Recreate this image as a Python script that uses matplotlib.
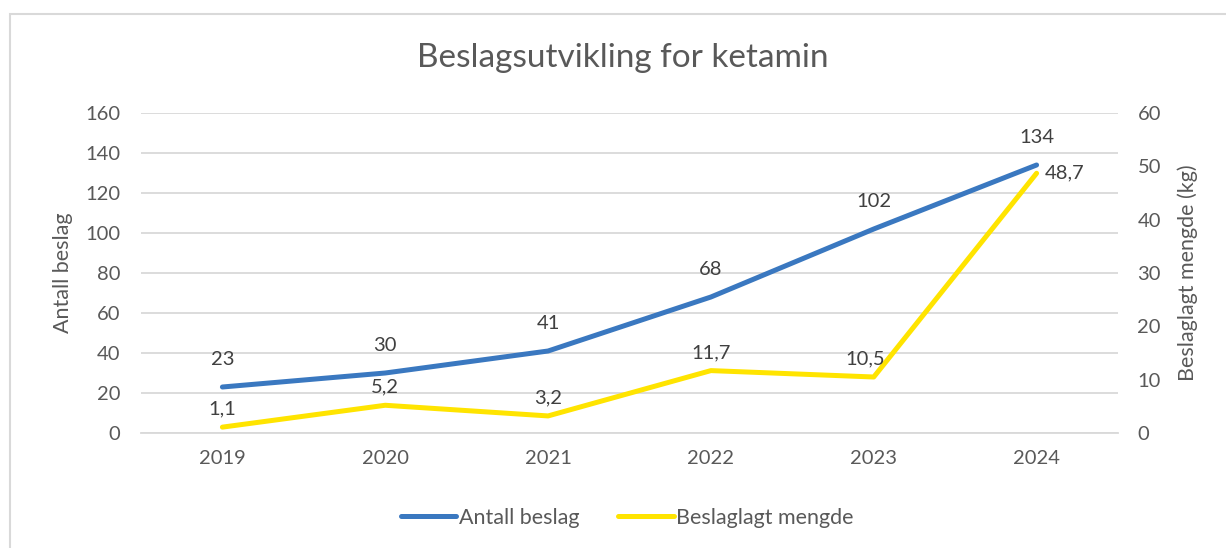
import matplotlib.pyplot as plt
from matplotlib.patches import Rectangle

years = ["2019", "2020", "2021", "2022", "2023", "2024"]
antall = [23, 30, 41, 68, 102, 134]
mengde = [1.1, 5.2, 3.2, 11.7, 10.5, 48.7]

blue = "#3a78c0"
yellow = "#ffe400"
txt = "#595959"
lbl = "#404040"

plt.rcParams["font.family"] = ["Lato", "DejaVu Sans"]

fig = plt.figure(figsize=(12.26, 5.48), dpi=100)
fig.patches.append(Rectangle((10 / 1226, -0.01), 1.02, (548 - 14) / 548 + 0.01,
                             transform=fig.transFigure, fill=False,
                             edgecolor="#d9d9d9", linewidth=1.5))

ax = fig.add_axes([141 / 1226, (548 - 433) / 548, (1118 - 141) / 1226, 320 / 548])
ax2 = ax.twinx()

x = list(range(len(years)))
ax.plot(x, antall, color=blue, lw=3.6, solid_capstyle="round", zorder=3)
ax2.plot(x, mengde, color=yellow, lw=3.6, solid_capstyle="round", zorder=3)

ax.set_xlim(-0.5, len(years) - 0.5)
ax.set_ylim(0, 160)
ax.set_yticks(range(0, 161, 20))
ax2.set_ylim(0, 60)
ax2.set_yticks(range(0, 61, 10))
ax.set_xticks(x)
ax.set_xticklabels(years)
ax.grid(axis="y", color="#d9d9d9", lw=1.3)
ax.set_axisbelow(True)

for a in (ax, ax2):
    for s in a.spines.values():
        s.set_visible(False)
    a.tick_params(length=0, labelsize=14.5, labelcolor=txt)
ax.spines["bottom"].set_visible(True)
ax.spines["bottom"].set_color("#d9d9d9")
ax.spines["bottom"].set_linewidth(1.3)
ax.tick_params(axis="x", pad=12)
ax.tick_params(axis="y", pad=15)
ax2.tick_params(axis="y", pad=14)

ax.set_ylabel("Antall beslag", fontsize=15.5, color=txt, labelpad=9)
ax2.set_ylabel("Beslaglagt mengde (kg)", fontsize=15.5, color=txt, labelpad=12)

for i, v in enumerate(antall):
    ax.annotate(str(v), (i, v), xytext=(0, 14), textcoords="offset points",
                ha="center", va="bottom", fontsize=14.5, color=lbl)
for i, v in enumerate(mengde):
    s = f"{v:.1f}".replace(".", ",")
    if i == len(mengde) - 1:
        ax2.annotate(s, (i, v), xytext=(6, 0), textcoords="offset points",
                     ha="left", va="center", fontsize=14.5, color=lbl)
    elif i == 4:
        ax2.annotate(s, (i, v), xytext=(-6, 7), textcoords="offset points",
                     ha="center", va="bottom", fontsize=14.5, color=lbl)
    else:
        ax2.annotate(s, (i, v), xytext=(0, 7), textcoords="offset points",
                     ha="center", va="bottom", fontsize=14.5, color=lbl)

fig.text(623 / 1226, (548 - 58) / 548, "Beslagsutvikling for ketamin",
         ha="center", va="center", fontsize=24, color=txt)

h1, = ax.plot([], [], color=blue, lw=3.6, solid_capstyle="round")
h2, = ax.plot([], [], color=yellow, lw=3.6, solid_capstyle="round")
fig.legend([h1, h2], ["Antall beslag", "Beslaglagt mengde"], loc="center",
           bbox_to_anchor=(627 / 1226, (548 - 518) / 548), ncol=2, frameon=False,
           fontsize=15.5, labelcolor=txt, handlelength=2.6, handletextpad=0.1,
           columnspacing=1.8)

fig.savefig("out.png", dpi=100)
